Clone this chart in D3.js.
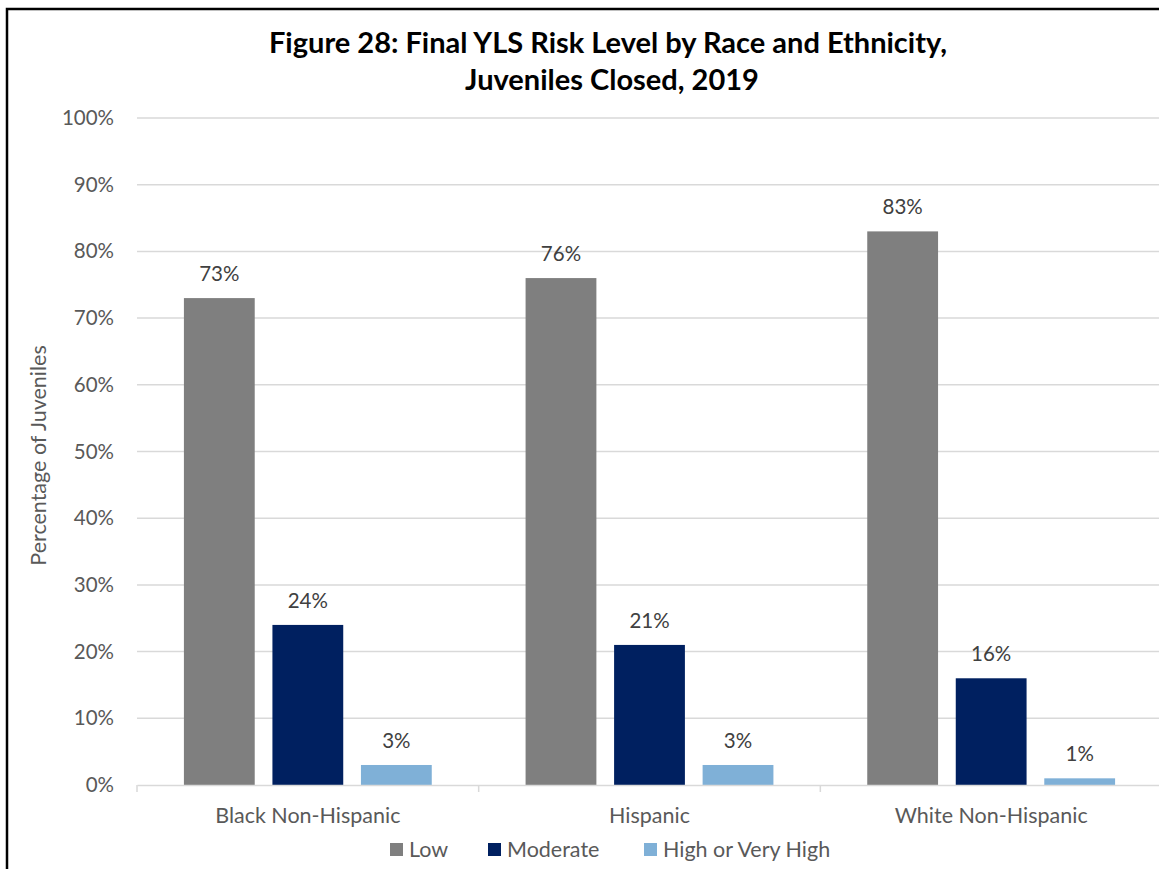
<!DOCTYPE html>
<html>
<head>
<meta charset="utf-8">
<script src="https://cdn.jsdelivr.net/npm/d3@7"></script>
<style>
  html, body { margin: 0; padding: 0; background: #fff; }
  svg { display: block; }
  text { font-family: Lato, "Open Sans", sans-serif; }
</style>
</head>
<body>
<svg id="chart" width="1159" height="869"></svg>
<script>
// Final YLS risk level by race and ethnicity, juveniles closed in 2019
const categories = ["Black Non-Hispanic", "Hispanic", "White Non-Hispanic"];
const seriesNames = ["Low", "Moderate", "High or Very High"];
const lowValues = [73, 76, 83];
const moderateValues = [24, 21, 16];
const highValues = [3, 3, 1];
const yTicks = [0, 10, 20, 30, 40, 50, 60, 70, 80, 90, 100];
const seriesColors = ["#7f7f7f", "#002060", "#7fb0d7"];

const seriesValues = [lowValues, moderateValues, highValues];
const rows = categories.map((c, i) => ({
  category: c,
  values: seriesNames.map((s, j) => ({ series: s, value: seriesValues[j][i] }))
}));

const labelSize = 21.5;
const svg = d3.select("#chart");

// Outer frame
svg.append("rect")
  .attr("x", 7).attr("y", 9)
  .attr("width", 1300).attr("height", 1000)
  .attr("fill", "none").attr("stroke", "#000").attr("stroke-width", 2.5);

// Title
const title = svg.append("text")
  .attr("text-anchor", "middle")
  .attr("font-weight", "bold")
  .attr("font-size", 29)
  .attr("fill", "#000");
title.append("tspan").attr("x", 608).attr("y", 53)
  .text("Figure 28: Final YLS Risk Level by Race and Ethnicity,");
title.append("tspan").attr("x", 612).attr("y", 90)
  .text("Juveniles Closed, 2019");

const plotLeft = 137, plotRight = 1162, plotTop = 118, plotBottom = 785;

const x0 = d3.scaleBand().domain(categories).range([plotLeft, plotRight]).padding(0);
const x1 = d3.scaleBand().domain(seriesNames).range([0, x0.bandwidth()])
  .paddingInner(0.2).paddingOuter(0.53);
const y = d3.scaleLinear().domain([0, 100]).range([plotBottom, plotTop]);

// Gridlines
svg.append("g")
  .selectAll("line")
  .data(yTicks.filter(t => t > 0))
  .join("line")
  .attr("x1", plotLeft).attr("x2", plotRight)
  .attr("y1", d => y(d)).attr("y2", d => y(d))
  .attr("stroke", "#d9d9d9").attr("stroke-width", 1.5);

// Y axis labels
const yAxis = svg.append("g")
  .attr("transform", `translate(${plotLeft - 23},0)`)
  .call(d3.axisLeft(y).tickValues(yTicks).tickFormat(d => d + "%").tickSize(0).tickPadding(0));
yAxis.select(".domain").remove();
yAxis.selectAll("text")
  .attr("font-family", "Lato, 'Open Sans', sans-serif")
  .attr("font-size", 20.5)
  .attr("fill", "#595959");

// Y axis title
svg.append("text")
  .attr("transform", `translate(46,${(plotTop + plotBottom) / 2 + 4}) rotate(-90)`)
  .attr("text-anchor", "middle")
  .attr("font-size", labelSize)
  .attr("fill", "#595959")
  .text("Percentage of Juveniles");

// Bars
const groups = svg.append("g")
  .selectAll("g")
  .data(rows)
  .join("g")
  .attr("transform", d => `translate(${x0(d.category)},0)`);

groups.selectAll("rect")
  .data(d => d.values)
  .join("rect")
  .attr("x", d => x1(d.series))
  .attr("width", x1.bandwidth())
  .attr("y", d => y(d.value))
  .attr("height", d => y(0) - y(d.value))
  .attr("fill", (d, i) => seriesColors[i]);

// Value labels
groups.selectAll("text.value")
  .data(d => d.values)
  .join("text")
  .attr("class", "value")
  .attr("x", d => x1(d.series) + x1.bandwidth() / 2)
  .attr("y", d => y(d.value) - 17)
  .attr("text-anchor", "middle")
  .attr("font-size", 20.5)
  .attr("fill", "#404040")
  .text(d => d.value + "%");

// X axis
const xAxis = svg.append("g")
  .attr("transform", `translate(0,${plotBottom})`)
  .call(d3.axisBottom(x0).tickSize(0).tickPadding(23));
xAxis.select(".domain").attr("stroke", "#d9d9d9").attr("stroke-width", 1.5);
xAxis.selectAll("text")
  .attr("font-family", "Lato, 'Open Sans', sans-serif")
  .attr("font-size", labelSize)
  .attr("fill", "#595959");

// Category separators on the axis
svg.append("g")
  .selectAll("line")
  .data(categories)
  .join("line")
  .attr("x1", d => x0(d)).attr("x2", d => x0(d))
  .attr("y1", plotBottom).attr("y2", plotBottom + 7)
  .attr("stroke", "#d9d9d9").attr("stroke-width", 1.5);

// Legend
const legendItems = [
  { name: seriesNames[0], x: 390 },
  { name: seriesNames[1], x: 488 },
  { name: seriesNames[2], x: 644 }
];
const legend = svg.append("g")
  .selectAll("g")
  .data(legendItems)
  .join("g")
  .attr("transform", d => `translate(${d.x},843)`);
legend.append("rect")
  .attr("width", 13).attr("height", 13)
  .attr("fill", (d, i) => seriesColors[i]);
legend.append("text")
  .attr("x", 19).attr("y", 14)
  .attr("font-size", labelSize)
  .attr("fill", "#595959")
  .text(d => d.name);
</script>
</body>
</html>
